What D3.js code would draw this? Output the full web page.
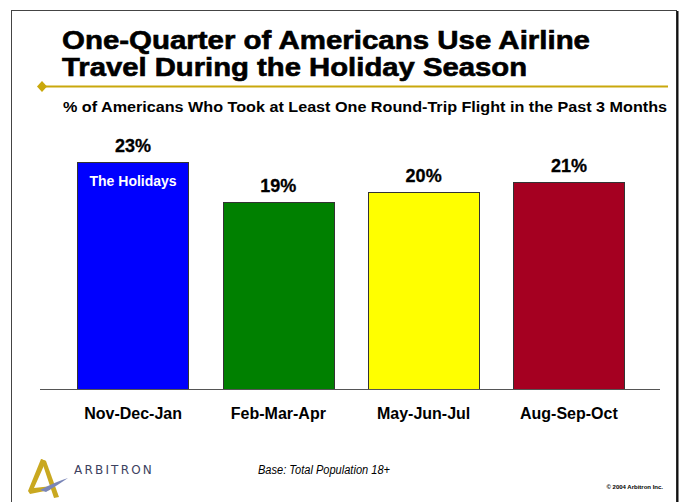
<!DOCTYPE html>
<html>
<head>
<meta charset="utf-8">
<script src="https://cdn.jsdelivr.net/npm/d3@7"></script>
<style>
  html, body { margin: 0; padding: 0; background: #fff; }
  svg { display: block; font-family: "Liberation Sans", Arial, Helvetica, sans-serif; }
</style>
</head>
<body>
<svg id="chart" width="679" height="502"></svg>
<script>
const categories = ["Nov-Dec-Jan", "Feb-Mar-Apr", "May-Jun-Jul", "Aug-Sep-Oct"];
const values = [23, 19, 20, 21];
const colors = ["#0000FF", "#008000", "#FFFF00", "#A50021"];
const valueLabels = ["23%", "19%", "20%", "21%"];
const titleLines = ["One-Quarter of Americans Use Airline", "Travel During the Holiday Season"];
const subtitle = "% of Americans Who Took at Least One Round-Trip Flight in the Past 3 Months";
const barNote = "The Holidays";
const footnote = "Base: Total Population 18+";
const copyright = "\u00A9 2004 Arbitron Inc.";
const logoText = "ARBITRON";

const svg = d3.select("#chart");

// frame
svg.append("rect").attr("x", 11.5).attr("y", 10.5).attr("width", 665).attr("height", 500)
  .attr("fill", "none").attr("stroke", "#444").attr("stroke-width", 1);
svg.append("line").attr("x1", 677.5).attr("x2", 677.5).attr("y1", 11).attr("y2", 502)
  .attr("stroke", "#111").attr("stroke-width", 2);

// title
const tl = [{t: titleLines[0], y: 49, w: 528}, {t: titleLines[1], y: 76, w: 465}];
svg.selectAll("text.title").data(tl).join("text").attr("class", "title")
  .attr("x", 62).attr("y", d => d.y).attr("font-size", 25).attr("font-weight", "bold")
  .attr("fill", "#000").attr("stroke", "#000").attr("stroke-width", 0.6)
  .attr("textLength", d => d.w).attr("lengthAdjust", "spacingAndGlyphs")
  .text(d => d.t);

// gold rule with diamond
svg.append("line").attr("x1", 42).attr("x2", 668).attr("y1", 86.5).attr("y2", 86.5)
  .attr("stroke", "#C9A80C").attr("stroke-width", 2);
svg.append("path").attr("d", "M42,81 L47,86.5 L42,92 L37,86.5 Z").attr("fill", "#C9A80C");

// subtitle
svg.append("text").attr("x", 63).attr("y", 112).attr("font-size", 14).attr("font-weight", "bold")
  .attr("textLength", 604).attr("lengthAdjust", "spacingAndGlyphs").text(subtitle);

// scales
const x = d3.scaleBand().domain(categories).range([60.5, 641.5]).paddingInner(0.2345).paddingOuter(0.117);
const y = d3.scaleLinear().domain([0, 25]).range([389.5, 142.7]);

// bars
svg.selectAll("rect.bar").data(values).join("rect").attr("class", "bar")
  .attr("x", (d, i) => Math.round(x(categories[i])) + 0.5)
  .attr("y", d => Math.round(y(d)) + 0.5)
  .attr("width", Math.round(x.bandwidth()))
  .attr("height", d => 389.5 - (Math.round(y(d)) + 0.5))
  .attr("fill", (d, i) => colors[i])
  .attr("stroke", "#333").attr("stroke-width", 1);

// baseline axis
const xAxis = d3.axisBottom(x).tickSize(0).tickPadding(0).tickFormat("");
const ax = svg.append("g").attr("transform", "translate(0,389.5)").call(xAxis);
ax.select(".domain").remove();
svg.append("line").attr("x1", 40).attr("x2", 660).attr("y1", 389.5).attr("y2", 389.5)
  .attr("stroke", "#555").attr("stroke-width", 1);

// value labels
svg.selectAll("text.val").data(values).join("text").attr("class", "val")
  .attr("x", (d, i) => x(categories[i]) + x.bandwidth() / 2)
  .attr("y", d => y(d) - 10)
  .attr("text-anchor", "middle").attr("font-size", 18).attr("font-weight", "bold")
  .attr("stroke", "#000").attr("stroke-width", 0.3)
  .text((d, i) => valueLabels[i]);

// bar note
svg.append("text").attr("x", x(categories[0]) + x.bandwidth() / 2).attr("y", 186)
  .attr("text-anchor", "middle").attr("font-size", 14).attr("font-weight", "bold")
  .attr("fill", "#fff").text(barNote);

// category labels
svg.selectAll("text.cat").data(categories).join("text").attr("class", "cat")
  .attr("x", d => x(d) + x.bandwidth() / 2).attr("y", 419)
  .attr("text-anchor", "middle").attr("font-size", 16).attr("font-weight", "bold")
  .text(d => d);

// footnote
svg.append("text").attr("x", 258).attr("y", 474).attr("font-size", 12).attr("font-style", "italic")
  .attr("textLength", 132).attr("lengthAdjust", "spacingAndGlyphs").text(footnote);
svg.append("text").attr("x", 663).attr("y", 489).attr("text-anchor", "end").attr("font-size", 6)
  .attr("font-weight", "bold").text(copyright);

// logo
const logo = svg.append("g");
logo.append("path").attr("d", "M28,491 L41,459 L46,461 L34,488 L52,486 L50,490 L30,494 Z").attr("fill", "#C9A820");
logo.append("path").attr("d", "M41,459 L46,461 L59,497 L54,498 Z").attr("fill", "#C9A820");
logo.append("path").attr("d", "M40,490 Q55,482 68,478 Q58,485 46,492 Z").attr("fill", "#7A86B8");
logo.append("text").attr("x", 74).attr("y", 474).attr("font-size", 12).attr("fill", "#3C4260")
  .attr("letter-spacing", 2.2).attr("font-family", "'DejaVu Sans', sans-serif").text(logoText);
</script>
</body>
</html>
